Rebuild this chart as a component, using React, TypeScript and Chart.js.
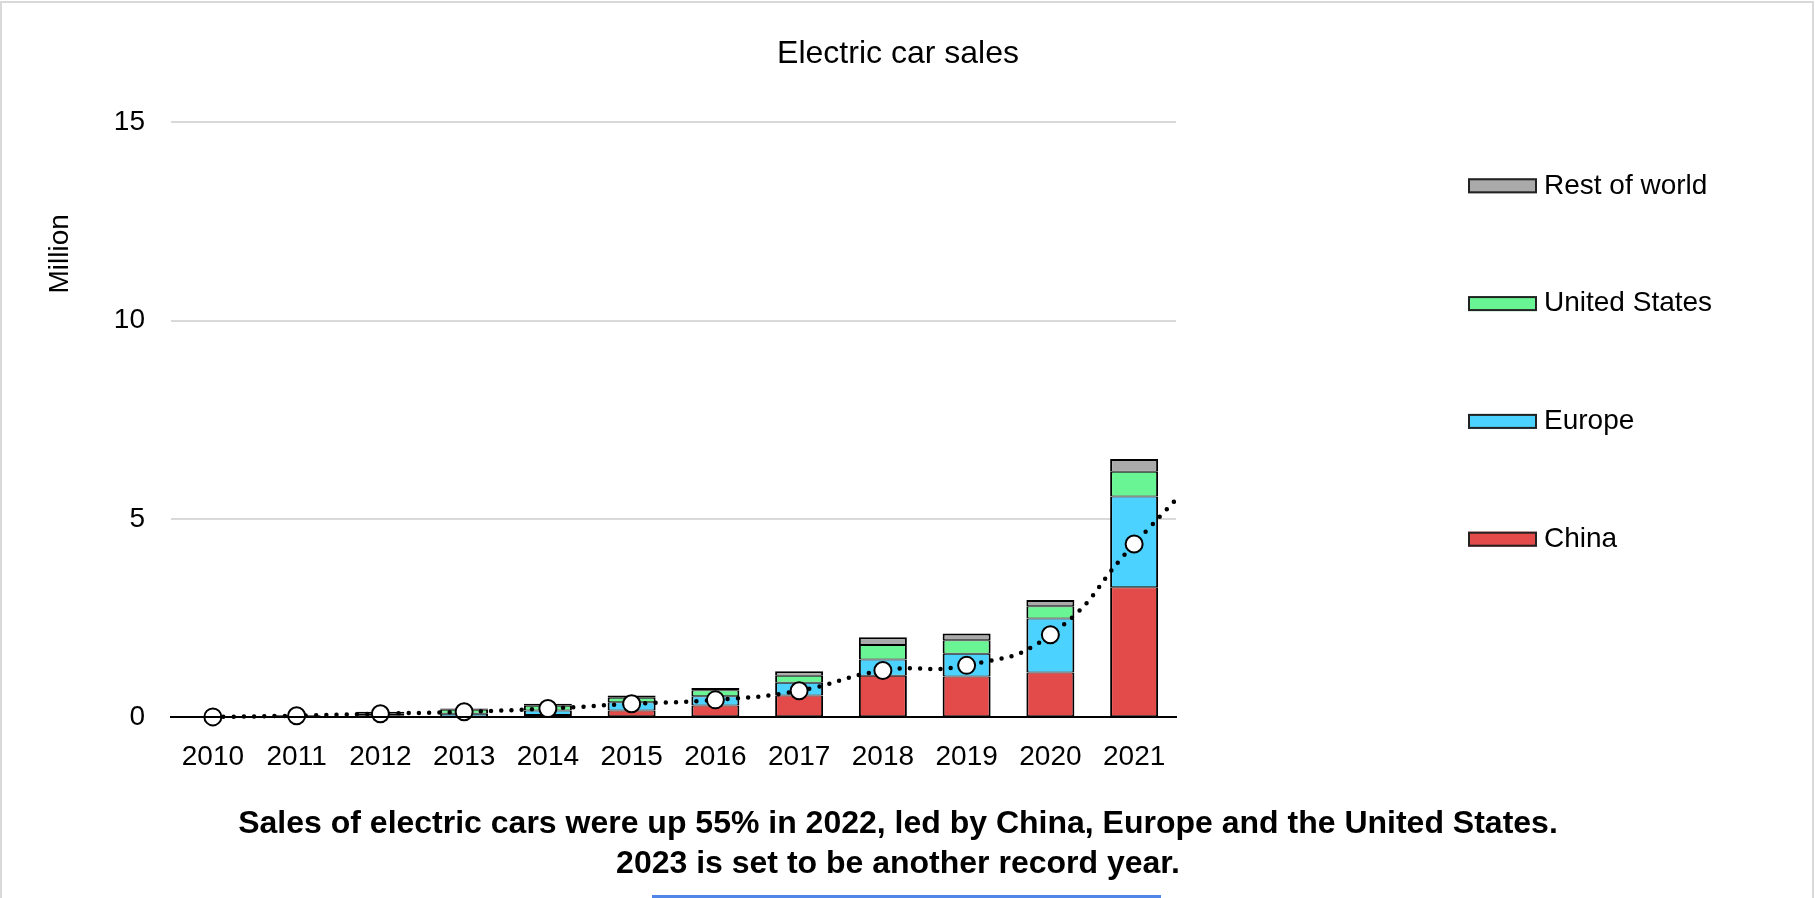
import React, { useEffect, useRef } from "react";
import { Chart, registerables } from "chart.js";

Chart.register(...registerables);

// ---------- data ----------
const years = ["2010", "2011", "2012", "2013", "2014", "2015", "2016", "2017", "2018", "2019", "2020", "2021"];
const chinaSales = [0.001, 0.005, 0.01, 0.02, 0.06, 0.17, 0.3, 0.55, 1.05, 1.03, 1.13, 3.28];
const europeSales = [0.001, 0.01, 0.03, 0.07, 0.11, 0.21, 0.23, 0.32, 0.41, 0.57, 1.36, 2.29];
const usSales = [0.001, 0.02, 0.05, 0.1, 0.12, 0.11, 0.15, 0.18, 0.36, 0.34, 0.31, 0.62];
const restSales = [0.006, 0.015, 0.05, 0.03, 0.05, 0.06, 0.06, 0.11, 0.2, 0.17, 0.16, 0.32];
const markerValues = [0.01, 0.04, 0.09, 0.14, 0.22, 0.34, 0.44, 0.67, 1.18, 1.31, 2.08, 4.37];
const nextYearMarker = 6.6; // 2022 point, only the start of its segment is visible
const seriesNames = ["China", "Europe", "United States", "Rest of world"];
const seriesColors = ["#e24b4a", "#4cd2fe", "#69f593", "#aaaaaa"];
const yMin = 0;
const yMax = 15;
const yStep = 5;

const titleText = "Electric car sales";
const captionLines = [
  "Sales of electric cars were up 55% in 2022, led by China, Europe and the United States.",
  "2023 is set to be another record year.",
];
const yAxisLabel = "Million";

const FONT = "'Liberation Sans', Arial, Helvetica, sans-serif";

Chart.defaults.font.family = FONT;
Chart.defaults.color = "#000";

const decorPlugin = {
  id: "decor",
  afterDraw(chart: any) {
    const { ctx, chartArea } = chart;
    // y axis label
    ctx.save();
    ctx.font = `28px ${FONT}`;
    ctx.fillStyle = "#000";
    ctx.translate(60, chartArea.top + 131.5);
    ctx.rotate(-Math.PI / 2);
    ctx.textAlign = "center";
    ctx.textBaseline = "middle";
    ctx.fillText(yAxisLabel, 0, 0);
    ctx.restore();

    // legend (reversed order, vertical)
    const bars = chart.data.datasets.filter((d: any) => d.type === "bar");
    const items = bars.slice().reverse();
    ctx.save();
    ctx.font = `28px ${FONT}`;
    ctx.textBaseline = "middle";
    ctx.textAlign = "left";
    items.forEach((d: any, k: number) => {
      const cy = 185.8 + k * 117.8;
      ctx.fillStyle = d.backgroundColor;
      ctx.fillRect(1468, cy - 7.5, 69, 15);
      ctx.lineWidth = 2;
      ctx.strokeStyle = "#222";
      ctx.strokeRect(1469, cy - 6.5, 67, 13);
      ctx.fillStyle = "#000";
      ctx.fillText(d.label, 1544, cy);
    });
    ctx.restore();

    // frame
    ctx.save();
    ctx.strokeStyle = "#d9d9d9";
    ctx.lineWidth = 2;
    ctx.beginPath();
    ctx.moveTo(1, 898);
    ctx.lineTo(1, 2);
    ctx.lineTo(1813, 2);
    ctx.lineTo(1813, 898);
    ctx.stroke();
    ctx.fillStyle = "#4f86e8";
    ctx.fillRect(652, 895, 509, 3);
    ctx.restore();
  },
};

export default function App() {
  const ref = useRef<HTMLCanvasElement>(null);

  useEffect(() => {
    document.body.style.margin = "0";
    document.body.style.overflow = "hidden";
    const valueSets = [chinaSales, europeSales, usSales, restSales];
    const barDatasets = valueSets.map((vals, i) => ({
      type: "bar" as const,
      label: seriesNames[i],
      data: vals,
      backgroundColor: seriesColors[i],
      borderColor: "#000",
      borderWidth: { top: i === valueSets.length - 1 ? 2 : 1, bottom: 1, left: 2, right: 2 },
      borderSkipped: false,
      inflateAmount: 0,
      barPercentage: 0.573,
      categoryPercentage: 1,
      grouped: false,
      order: 1,
      xAxisID: "x",
      yAxisID: "y",
    }));
    const lineData = markerValues
      .map((v, i) => ({ x: i, y: v }))
      .concat([{ x: years.length, y: nextYearMarker }]);
    const lineDataset: any = {
      type: "line",
      label: "Trend",
      data: lineData,
      xAxisID: "xl",
      yAxisID: "y",
      borderColor: "#000",
      borderWidth: 4.5,
      borderDash: [0, 10.3],
      borderCapStyle: "round",
      tension: 0.5,
      pointRadius: 8.5,
      pointBorderWidth: 2,
      pointBackgroundColor: "#fff",
      pointBorderColor: "#000",
      clip: { left: 20, top: 20, right: 0, bottom: 20 },
      order: 0,
    };

    const chart = new Chart(ref.current as HTMLCanvasElement, {
      type: "bar",
      data: { labels: years, datasets: [...barDatasets, lineDataset] as any },
      options: {
        responsive: false,
        animation: false,
        devicePixelRatio: 1,
        events: [],
        layout: { padding: { left: 0, right: 19, top: 0, bottom: 0 } },
        plugins: {
          legend: { display: false },
          tooltip: { enabled: false },
          title: {
            display: true,
            text: titleText,
            color: "#000",
            font: { size: 32, weight: "normal", lineHeight: 1.2 },
            padding: { top: 35, bottom: 49 },
          },
          subtitle: {
            display: true,
            position: "bottom",
            text: captionLines,
            color: "#000",
            font: { size: 32, weight: "bold", lineHeight: 1.25 },
            padding: { top: 7.4, bottom: 13.7 },
          },
        },
        scales: {
          x: {
            type: "category",
            stacked: true,
            offset: true,
            grid: { display: false, drawTicks: false },
            border: { display: true, color: "#000", width: 2, z: 1 },
            ticks: { color: "#000", font: { size: 28 }, padding: 23, maxRotation: 0, autoSkip: false },
          },
          xl: {
            type: "linear",
            display: false,
            offset: false,
            grid: { offset: false },
            min: -0.5,
            max: years.length - 0.5,
          },
          y: {
            type: "linear",
            stacked: true,
            min: yMin,
            max: yMax,
            ticks: { stepSize: yStep, color: "#000", font: { size: 28 }, padding: 26 },
            grid: { color: "#d9d9d9", lineWidth: 2, drawTicks: false },
            border: { display: false },
            afterFit: (s: any) => {
              s.width = 171;
            },
          },
          yr: {
            type: "linear",
            position: "right",
            display: true,
            grid: { display: false, drawTicks: false },
            ticks: { display: false },
            border: { display: false },
            afterFit: (s: any) => {
              s.width = 620;
            },
          },
        },
      } as any,
      plugins: [decorPlugin],
    });
    return () => chart.destroy();
  }, []);

  return (
    <div style={{ width: 1815, height: 898, position: "relative", background: "#fff" }}>
      <canvas ref={ref} width={1815} height={898} style={{ display: "block", width: 1815, height: 898 }} />
    </div>
  );
}
